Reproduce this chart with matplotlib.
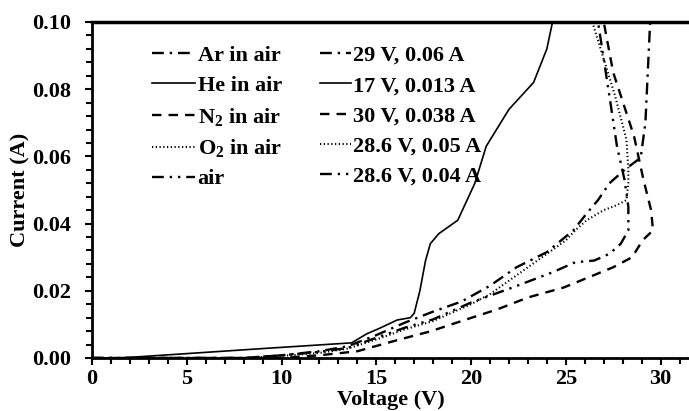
import matplotlib.pyplot as plt
from matplotlib.ticker import MultipleLocator, FormatStrFormatter

plt.rcParams['font.family'] = ['Liberation Serif', 'DejaVu Serif']
plt.rcParams['font.weight'] = 'bold'
plt.rcParams['mathtext.fontset'] = 'custom'
plt.rcParams['mathtext.rm'] = 'Liberation Serif'
plt.rcParams['mathtext.bf'] = 'Liberation Serif:bold'
plt.rcParams['mathtext.default'] = 'bf'

# voltage (V) and current (A) per gas
he_v = [0, 1.5, 5, 9, 13.7, 14.5, 15.2, 16.1, 16.8, 17.0, 17.3, 17.6, 17.85,
        18.3, 19.3, 20.2, 20.8, 22.0, 23.3, 24.0, 24.3]
he_i = [0, 0, 0.0013, 0.0028, 0.0045, 0.0072, 0.0089, 0.0113, 0.0120, 0.0133,
        0.020, 0.029, 0.034, 0.037, 0.041, 0.052, 0.063, 0.074, 0.082, 0.092, 0.100]

ar_v = [0, 8, 10, 12, 13.5, 15, 16.5, 18, 19.5, 21, 22.4, 24, 25.4, 26.1, 26.7,
        27.3, 28.1, 28.95, 29.2, 29.45]
ar_i = [0, 0, 0.0008, 0.002, 0.0035, 0.0068, 0.0105, 0.0138, 0.0168, 0.0215,
        0.027, 0.0315, 0.038, 0.043, 0.047, 0.052, 0.056, 0.0596, 0.07, 0.1]

n2_v = [0, 10, 12, 14, 16.1, 17.9, 19.5, 21.4, 23, 24.9, 26.2, 27.5, 28.5, 29.05,
        29.6, 29.5, 29.1, 28.6, 27.5, 27.0]
n2_i = [0, 0, 0.0008, 0.002, 0.0053, 0.008, 0.011, 0.0145, 0.018, 0.021, 0.024,
        0.027, 0.030, 0.035, 0.038, 0.044, 0.053, 0.066, 0.085, 0.100]

o2_v = [0, 8, 10, 12, 13.5, 15, 16.5, 18, 20, 21, 22, 23, 24, 25, 25.5, 26.1,
        27.0, 27.7, 28.2, 28.3, 28.3, 28.2, 27.6, 27.0, 26.4]
o2_i = [0, 0, 0.0006, 0.0015, 0.0028, 0.0055, 0.0085, 0.011, 0.016, 0.019,
        0.023, 0.027, 0.031, 0.035, 0.038, 0.041, 0.044, 0.0455, 0.047, 0.052,
        0.056, 0.065, 0.078, 0.089, 0.100]

air_v = [0, 8, 10, 12, 13.5, 15, 16.5, 18, 20, 22.2, 24.3, 25.5, 26.5, 27.3,
         27.9, 28.3, 28.3, 28.1, 27.7, 27.3, 26.7]
air_i = [0, 0, 0.0008, 0.0018, 0.003, 0.006, 0.009, 0.0115, 0.0165, 0.021,
         0.0255, 0.0285, 0.029, 0.031, 0.034, 0.038, 0.045, 0.053, 0.063, 0.078, 0.100]

gas_labels = ['Ar in air', 'He in air', r'N$_2$ in air', r'O$_2$ in air', 'air']
point_labels = ['29 V, 0.06 A', '17 V, 0.013 A', '30 V, 0.038 A',
                '28.6 V, 0.05 A', '28.6 V, 0.04 A']

fig = plt.figure(figsize=(6.89, 4.11), dpi=100)
ax = fig.add_axes([0.1335, 0.129, 0.8665, 0.8175])

h_ar, = ax.plot(ar_v, ar_i, color='black', lw=1.7, linestyle=(0, (5, 2.5, 1, 2.5)))
h_he, = ax.plot(he_v, he_i, color='black', lw=1.2, linestyle='-')
h_n2, = ax.plot(n2_v, n2_i, color='black', lw=1.7, linestyle=(0, (4, 3)))
h_o2, = ax.plot(o2_v, o2_i, color='black', lw=1.5, linestyle=(0, (0.6, 1.2)))
h_air, = ax.plot(air_v, air_i, color='black', lw=1.7,
                 linestyle=(0, (5, 2.5, 1, 2.5, 1, 2.5)))
handles = [h_ar, h_he, h_n2, h_o2, h_air]

ax.set_xlim(0, 31.5)
ax.set_ylim(0, 0.1)
ax.xaxis.set_major_locator(MultipleLocator(5))
ax.xaxis.set_minor_locator(MultipleLocator(1))
ax.yaxis.set_major_locator(MultipleLocator(0.02))
ax.yaxis.set_minor_locator(MultipleLocator(0.004))
ax.yaxis.set_major_formatter(FormatStrFormatter('%.2f'))
ax.tick_params(which='major', direction='out', length=5, width=1.5, labelsize=16)
ax.tick_params(which='minor', direction='out', length=4, width=1.5)
ax.tick_params(axis='x', pad=3)
ax.tick_params(axis='y', pad=10)

for s in ['left', 'bottom', 'top']:
    ax.spines[s].set_linewidth(2)
ax.spines['top'].set_linewidth(2.5)
ax.spines['right'].set_visible(False)

ax.set_xlabel('Voltage (V)', fontsize=16, fontweight='bold', labelpad=1)
ax.set_ylabel('Current (A)', fontsize=16, fontweight='bold', labelpad=1)

leg1 = ax.legend(handles, gas_labels, loc='upper left', bbox_to_anchor=(0.1, 0.93),
                 frameon=False, fontsize=16, handlelength=1.95, handletextpad=0.12,
                 borderpad=0, borderaxespad=0, labelspacing=0.43)
ax.add_artist(leg1)
ax.legend(handles, point_labels, loc='upper left', bbox_to_anchor=(0.382, 0.93),
          frameon=False, fontsize=16, handlelength=1.4, handletextpad=0.08,
          borderpad=0, borderaxespad=0, labelspacing=0.43)

fig.savefig('out.png', dpi=100)
